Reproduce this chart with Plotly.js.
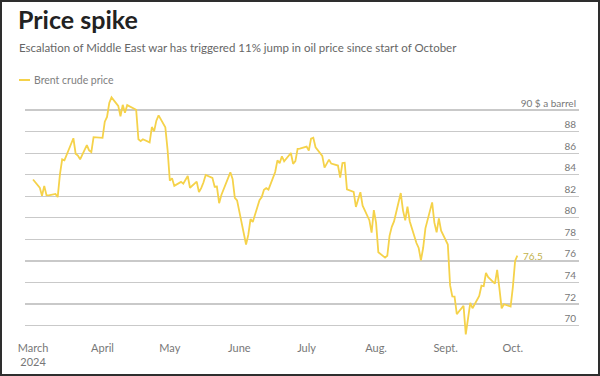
<!DOCTYPE html>
<html>
<head>
<meta charset="utf-8">
<script src="https://cdn.plot.ly/plotly-3.0.1.min.js"></script>
<style>
  html, body { margin: 0; padding: 0; background: #fff; }
  #chart { width: 600px; height: 376px; }
  #frame { position: fixed; left: 0; top: 0; width: 600px; height: 376px; box-sizing: border-box; border: 2px solid #2e2e2e; pointer-events: none; }
</style>
</head>
<body>
<div id="chart"></div>
<div id="frame"></div>
<script>
// ---- Data ----
const dates = [
  '2024-03-01','2024-03-04','2024-03-05','2024-03-06','2024-03-07','2024-03-08','2024-03-11','2024-03-12','2024-03-13','2024-03-14','2024-03-15',
  '2024-03-18','2024-03-19','2024-03-20','2024-03-21','2024-03-22','2024-03-25','2024-03-26','2024-03-27','2024-03-28',
  '2024-04-01','2024-04-02','2024-04-03','2024-04-04','2024-04-05','2024-04-08','2024-04-09','2024-04-10','2024-04-11','2024-04-12',
  '2024-04-15','2024-04-16','2024-04-17','2024-04-18','2024-04-19','2024-04-22','2024-04-23','2024-04-24','2024-04-25','2024-04-26',
  '2024-04-29','2024-04-30','2024-05-01','2024-05-02','2024-05-03','2024-05-06','2024-05-07','2024-05-08','2024-05-09','2024-05-10',
  '2024-05-13','2024-05-14','2024-05-15','2024-05-16','2024-05-17','2024-05-20','2024-05-21','2024-05-22','2024-05-23','2024-05-24',
  '2024-05-28','2024-05-29','2024-05-30','2024-05-31','2024-06-03','2024-06-04','2024-06-05','2024-06-06','2024-06-07',
  '2024-06-10','2024-06-11','2024-06-12','2024-06-13','2024-06-14','2024-06-17','2024-06-18','2024-06-19','2024-06-20','2024-06-21',
  '2024-06-24','2024-06-25','2024-06-26','2024-06-27','2024-06-28','2024-07-01','2024-07-02','2024-07-03','2024-07-04','2024-07-05',
  '2024-07-08','2024-07-09','2024-07-10','2024-07-11','2024-07-12','2024-07-15','2024-07-16','2024-07-17','2024-07-18','2024-07-19',
  '2024-07-22','2024-07-23','2024-07-24','2024-07-25','2024-07-26','2024-07-29','2024-07-30','2024-07-31','2024-08-01','2024-08-02',
  '2024-08-05','2024-08-06','2024-08-07','2024-08-08','2024-08-09','2024-08-12','2024-08-13','2024-08-14','2024-08-15','2024-08-16',
  '2024-08-19','2024-08-20','2024-08-21','2024-08-22','2024-08-23','2024-08-26','2024-08-27','2024-08-28','2024-08-29','2024-08-30',
  '2024-09-02','2024-09-03','2024-09-04','2024-09-05','2024-09-06','2024-09-09','2024-09-10','2024-09-11','2024-09-12','2024-09-13',
  '2024-09-16','2024-09-17','2024-09-18','2024-09-19','2024-09-20','2024-09-23','2024-09-24','2024-09-25','2024-09-26','2024-09-27',
  '2024-09-30','2024-10-01','2024-10-02','2024-10-03'
];
const prices = [
  83.55,82.80,82.04,82.96,82.10,82.08,82.21,81.92,84.03,85.42,85.34,
  86.89,87.38,85.95,85.78,85.43,86.75,86.25,86.09,87.48,
  87.42,88.92,89.35,90.65,91.17,90.38,89.42,90.48,89.74,90.45,
  90.10,90.02,87.29,87.11,87.29,87.00,88.42,88.02,89.01,89.50,
  88.40,86.33,83.44,83.67,82.96,83.33,83.16,83.58,83.88,82.79,
  83.36,82.38,82.75,83.27,83.98,83.71,82.88,82.90,81.36,82.12,
  84.22,83.60,81.86,81.62,78.36,77.52,78.41,79.87,79.62,
  81.63,81.92,82.60,82.75,82.62,84.25,85.33,85.07,85.71,85.24,
  86.01,85.01,85.25,86.39,86.41,86.60,86.24,87.34,87.43,86.54,
  85.75,84.66,85.08,85.40,85.03,84.85,83.73,85.08,85.11,82.63,
  82.40,81.01,81.71,82.37,81.13,79.78,78.63,80.72,79.52,76.81,
  76.30,76.48,78.33,79.16,79.66,82.30,80.69,79.76,81.04,79.68,
  77.66,77.20,76.05,77.22,79.02,81.43,79.55,78.65,79.94,78.80,
  77.52,73.75,72.70,72.69,71.06,71.84,69.19,70.61,72.10,71.61,
  72.75,73.70,73.65,74.88,74.49,73.90,75.17,73.46,71.60,71.98,
  71.77,73.56,76.00,76.50
];
const monthTicks = ['2024-03-01','2024-04-01','2024-05-01','2024-06-01','2024-07-01','2024-08-01','2024-09-01','2024-10-01'];
const monthLabels = ['March<br>2024','April','May','June','July','Aug.','Sept.','Oct.'];
const priceTicks = [70,72,74,76,78,80,82,84,86,88,90];
const priceLabels = ['70','72','74','76','78','80','82','84','86','88','90 $ a barrel'];
const seriesName = 'Brent crude price';
const titleText = 'Price spike';
const subtitleText = 'Escalation of Middle East war has triggered 11% jump in oil price since start of October';

// ---- Chart ----
const LINE = '#f5d24a';
const FONT = 'Lato, "Open Sans", sans-serif';
const lastX = dates[dates.length - 1];
const lastY = prices[prices.length - 1];

const PT = 92, PB = 340, PL = 25, PR = 579;
const PH = PB - PT, PW = PR - PL;
const py = v => (PB - v) / PH;   // pixel row -> paper y
const px = v => (v - PL) / PW;   // pixel col -> paper x

const trace = {
  type: 'scatter', mode: 'lines', name: seriesName,
  x: dates, y: prices,
  line: { color: LINE, width: 1.8 },
  hoverinfo: 'skip'
};

const layout = {
  width: 600, height: 376,
  margin: { l: PL, r: 600 - PR, t: PT, b: 376 - PB },
  paper_bgcolor: '#ffffff', plot_bgcolor: '#ffffff',
  showlegend: false,
  font: { family: FONT, color: '#777' },
  title: {
    text: titleText, xref: 'container', yref: 'container',
    x: 0.03, xanchor: 'left', y: 1 - 20/376, yanchor: 'middle',
    font: { family: FONT, size: 25, color: '#222', weight: 700 }
  },
  xaxis: {
    type: 'date',
    range: ['2024-02-26 10:00', '2024-10-30 12:00'],
    tickmode: 'array', tickvals: monthTicks, ticktext: monthLabels,
    showgrid: false, zeroline: false, showline: false, ticks: '',
    tickfont: { family: FONT, size: 11, color: '#777' }
  },
  yaxis: {
    range: [68.664, 91.67],
    side: 'right',
    tickmode: 'array', tickvals: priceTicks, ticktext: priceLabels,
    ticklabelposition: 'inside',
    ticklabelshift: -7,
    showgrid: true, gridcolor: '#c9c9c9', gridwidth: 1.2,
    zeroline: false, showline: false, ticks: '',
    tickfont: { family: FONT, size: 10, color: '#777' }
  },
  shapes: [
    { type: 'line', xref: 'paper', yref: 'paper', x0: px(19), x1: px(30), y0: py(80), y1: py(80),
      line: { color: LINE, width: 2 } }
  ],
  annotations: [
    { xref: 'paper', yref: 'paper', x: px(17), y: py(48), xanchor: 'left', yanchor: 'middle',
      text: subtitleText, showarrow: false, font: { family: FONT, size: 11.5, color: '#666' } },
    { xref: 'paper', yref: 'paper', x: px(32), y: py(80), xanchor: 'left', yanchor: 'middle',
      text: seriesName, showarrow: false, font: { family: FONT, size: 10.5, color: '#808080' } },
    { x: lastX, y: lastY, xref: 'x', yref: 'y', xanchor: 'left', yanchor: 'middle', xshift: 4,
      text: lastY.toFixed(1), showarrow: false, font: { family: FONT, size: 10, color: '#c2b24c' } }
  ]
};

Plotly.newPlot('chart', [trace], layout, { displayModeBar: false, staticPlot: true });
</script>
</body>
</html>
